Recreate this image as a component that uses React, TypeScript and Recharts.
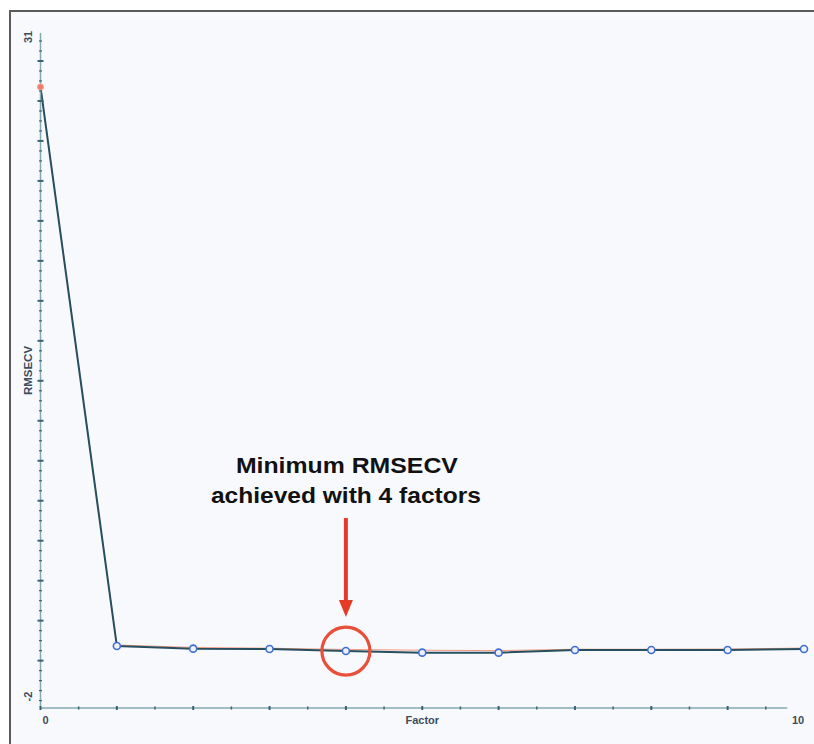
import React from "react";
import { LineChart, Line, XAxis, YAxis, ReferenceLine, ReferenceDot, Label } from "recharts";

const factors = [0, 1, 2, 3, 4, 5, 6, 7, 8, 9, 10];
const rmsecv = [28.7, 0.73, 0.6, 0.58, 0.48, 0.4, 0.4, 0.53, 0.53, 0.53, 0.58];
const rmsecvTrace = [28.75, 0.78, 0.66, 0.62, 0.56, 0.52, 0.5, 0.57, 0.57, 0.58, 0.63];
const yTickLabels = ["31", "-2"];
const xTickLabels = ["0", "10"];
const annotationLines = ["Minimum RMSECV", "achieved with 4 factors"];
const minFactor = 4;

const FONT = "'Liberation Sans', Arial, Helvetica, sans-serif";
const AXIS_TEXT = "#3c4c5c";
const TICK_COLOR = "#3a6474";
const RED = "#e63a28";

const data = factors.map((f, i) => ({ factor: f, rmsecv: rmsecv[i], trace: rmsecvTrace[i] }));

const yTicks: number[] = [];
for (let v = -2; v <= 31.001; v += 0.5) yTicks.push(Math.round(v * 10) / 10);
const xTicks: number[] = [];
for (let v = 0; v <= 10.001; v += 0.5) xTicks.push(Math.round(v * 10) / 10);

const YTick = (props: any) => {
  const { x, y, payload } = props;
  const v = payload.value;
  const major = v >= 0 && v <= 30 && Math.abs(v % 2) < 1e-6;
  const len = major ? 3 : 1.5;
  let label: string | null = null;
  if (v === 31) label = yTickLabels[0];
  if (v === -2) label = yTickLabels[1];
  return (
    <g>
      <line x1={x - len} x2={x + len} y1={y} y2={y} stroke={TICK_COLOR} strokeWidth={major ? 2 : 1.2} />
      {label && (
        <text
          x={x - 12}
          y={y - 4}
          transform={`rotate(-90 ${x - 12} ${y - 4})`}
          textAnchor="middle"
          dominantBaseline="central"
          fontFamily={FONT}
          fontSize={11}
          fontWeight="bold"
          fill={AXIS_TEXT}
        >
          {label}
        </text>
      )}
    </g>
  );
};

const XTick = (props: any) => {
  const { x, y, payload } = props;
  const v = payload.value;
  const major = Math.abs(v % 1) < 1e-6;
  let label: React.ReactNode = null;
  if (v === 0) {
    label = (
      <text x={x + 5} y={y + 16} textAnchor="middle" fontFamily={FONT} fontSize={11} fontWeight="bold" fill={AXIS_TEXT}>
        {xTickLabels[0]}
      </text>
    );
  } else if (v === 10) {
    label = (
      <text x={x - 6} y={y + 16} textAnchor="middle" fontFamily={FONT} fontSize={11} fontWeight="bold" fill={AXIS_TEXT}>
        {xTickLabels[1]}
      </text>
    );
  } else if (v === 5) {
    label = (
      <text x={x} y={y + 16} textAnchor="middle" fontFamily={FONT} fontSize={11} fontWeight="bold" fill={AXIS_TEXT}>
        Factor
      </text>
    );
  }
  return (
    <g>
      {v < 9.8 && (
        <line x1={x} x2={x} y1={y - (major ? 2 : 1.5)} y2={y + (major ? 2 : 1.5)} stroke={TICK_COLOR} strokeWidth={major ? 2 : 1.5} />
      )}
      {label}
    </g>
  );
};

const Marker = (props: any) => {
  const { cx, cy, index } = props;
  if (cx == null || cy == null) return null;
  if (index === 0) {
    return <circle key={`m${index}`} cx={cx} cy={cy} r={3} fill="#f07a68" stroke="#f4a090" strokeWidth={1} />;
  }
  return <circle key={`m${index}`} cx={cx} cy={cy} r={3.5} fill="#eef1f9" stroke="#3e6fd2" strokeWidth={1.6} />;
};

const Annotation = (props: any) => {
  const { cx, cy } = props;
  if (cx == null || cy == null) return null;
  return (
    <g>
      <circle cx={cx} cy={cy} r={24} fill="none" stroke="#e8503a" strokeWidth={3.2} />
      <line x1={cx} x2={cx} y1={cy - 133} y2={cy - 49} stroke={RED} strokeWidth={4} />
      <polygon points={`${cx - 7},${cy - 51} ${cx + 7},${cy - 51} ${cx},${cy - 34}`} fill={RED} />
      <text
        x={cx + 1}
        y={cy - 178}
        textAnchor="middle"
        fontFamily={FONT}
        fontSize={22}
        fontWeight="bold"
        fill="#111"
        textLength={222}
        lengthAdjust="spacingAndGlyphs"
      >
        {annotationLines[0]}
      </text>
      <text
        x={cx}
        y={cy - 148}
        textAnchor="middle"
        fontFamily={FONT}
        fontSize={22}
        fontWeight="bold"
        fill="#111"
        textLength={270}
        lengthAdjust="spacingAndGlyphs"
      >
        {annotationLines[1]}
      </text>
    </g>
  );
};

const YLabel = (props: any) => {
  const vb = props.viewBox || {};
  const x = (vb.x || 0) + (vb.width || 40) - 12.5;
  const y = (vb.y || 0) + (vb.height || 0) / 2;
  return (
    <text
      x={x}
      y={y}
      transform={`rotate(-90 ${x} ${y})`}
      textAnchor="middle"
      dominantBaseline="central"
      fontFamily={FONT}
      fontSize={11.5}
      fontWeight="bold"
      fill={AXIS_TEXT}
    >
      RMSECV
    </text>
  );
};

export default function App() {
  return (
    <div style={{ position: "fixed", left: 0, top: 0, width: 814, height: 744, background: "#f8f9fc", overflow: "hidden" }}>
      <div style={{ position: "absolute", left: 0, top: 0, width: 9, height: 744, background: "#ffffff" }} />
      <div style={{ position: "absolute", left: 0, top: 0, width: 814, height: 10, background: "#ffffff" }} />
      <div style={{ position: "absolute", left: 9, top: 10, width: 2, height: 734, background: "#5a5a5a" }} />
      <div style={{ position: "absolute", left: 9, top: 10, width: 805, height: 2, background: "#5a5a5a" }} />
      <div style={{ position: "absolute", left: 0, top: 0 }}>
        <LineChart width={814} height={744} data={data} margin={{ top: 33, right: 10, bottom: 0, left: 0 }}>
          <XAxis
            dataKey="factor"
            type="number"
            domain={[0, 10]}
            ticks={xTicks}
            interval={0}
            tickSize={0}
            tickMargin={0}
            axisLine={false}
            tickLine={false}
            height={36}
            tick={<XTick />}
          />
          <YAxis
            type="number"
            domain={[-2.37, 31.4]}
            allowDataOverflow
            ticks={yTicks}
            interval={0}
            tickSize={0}
            tickMargin={0}
            width={40.5}
            tickLine={false}
            axisLine={{ stroke: "#86a8b2", strokeWidth: 1.5 }}
            tick={<YTick />}
          >
            <Label content={<YLabel />} position="left" />
          </YAxis>
          <ReferenceLine
            segment={[{ x: 0, y: -2.37 }, { x: 9.78, y: -2.37 }]}
            stroke="#86a8b2"
            strokeWidth={1.5}
            ifOverflow="visible"
          />
          <Line
            type="linear"
            dataKey="trace"
            stroke="#f29a80"
            strokeWidth={1}
            dot={false}
            activeDot={false}
            isAnimationActive={false}
          />
          <Line
            type="linear"
            dataKey="rmsecv"
            stroke="#264f5f"
            strokeWidth={2}
            dot={<Marker />}
            activeDot={false}
            isAnimationActive={false}
          />
          <ReferenceDot x={minFactor} y={rmsecv[minFactor]} r={24} shape={<Annotation />} ifOverflow="visible" />
        </LineChart>
      </div>
    </div>
  );
}
